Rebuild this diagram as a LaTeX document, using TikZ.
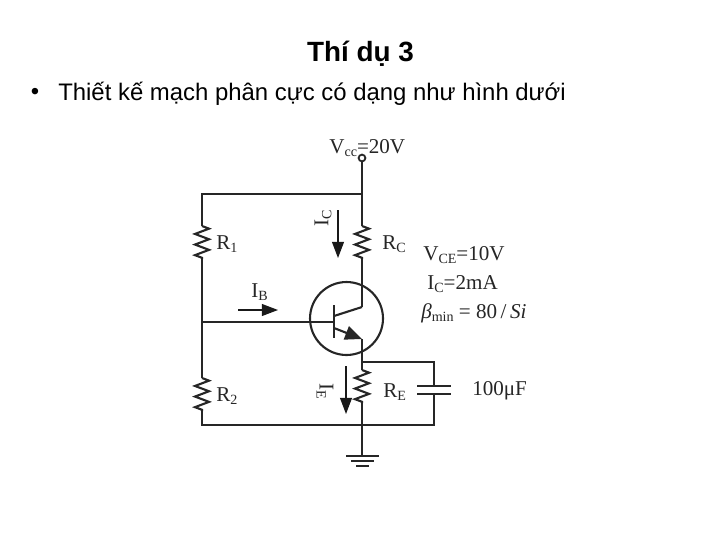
\documentclass[tikz,border=0pt]{standalone}
\usepackage{fontspec}
\setmainfont{Liberation Serif}
\newfontfamily\slidefont{Liberation Sans}
\usetikzlibrary{positioning,calc,decorations.pathmorphing,arrows.meta}
\newcommand{\low}[1]{\raisebox{-0.32ex}{\fontsize{10pt}{10pt}\selectfont #1}}
\tikzset{
    wire/.style={line width=1.5pt, black!85},
    res/.style={wire, decorate, decoration={zigzag, segment length=10.6pt*0.7113, amplitude=7pt*0.7113}},
    curr/.style={line width=0.9pt, black!90, -{Triangle[length=11.5pt, width=8.5pt]}},
    lab/.style={inner sep=0pt, text=black!85, font=\fontsize{15pt}{17pt}\selectfont},
}
\begin{document}
\begin{tikzpicture}[x=0.025cm, y=-0.025cm]
    \useasboundingbox (0,0) rectangle (720,540);
    \node[inner sep=0pt, font=\slidefont\bfseries\fontsize{19.8pt}{22pt}\selectfont] (title) at (360.5,54) {Thí dụ 3};
    \node[inner sep=0pt, anchor=west, font=\slidefont\fontsize{17pt}{20pt}\selectfont] (line) at (58,93.5) {Thiết kế mạch phân cực có dạng như hình dưới};
    \node[inner sep=0pt, font=\slidefont\fontsize{17pt}{20pt}\selectfont] (dot) at (35,93.5) {•};

    % Supply and top rail
    \node[draw, circle, line width=1.3pt, black!85, minimum size=4.8pt, inner sep=0pt] (vcc) at (362,158) {};
    \coordinate (tl) at (202,194);
    \coordinate (tr) at (362,194);
    \coordinate (r1a) at (202,226);
    \coordinate (r1b) at (202,259);
    \coordinate (bl) at (202,322);
    \coordinate (r2a) at (202,378);
    \coordinate (r2b) at (202,411);
    \coordinate (gl) at (202,425);
    \coordinate (gm) at (362,425);
    \coordinate (rca) at (362,226);
    \coordinate (rcb) at (362,259);
    \coordinate (col) at (362,307);
    \coordinate (emi) at (362,339);
    \coordinate (rea) at (362,370);
    \coordinate (reb) at (362,403);
    \coordinate (capt) at (434,362);
    \coordinate (capb) at (434,425);
    \coordinate (etop) at (362,362);
    \coordinate (base) at (334,322);
    \coordinate (gnd) at (362,456);

    \draw[wire] (vcc) -- (tr) -- (rca);
    \draw[wire] (tr) -- (tl) -- (r1a);
    \draw[res] (r1a) -- (r1b);
    \draw[wire] (r1b) -- (bl) -- (r2a);
    \draw[res] (r2a) -- (r2b);
    \draw[wire] (r2b) -- (gl) -- (gm);
    \draw[res] (rca) -- (rcb);
    \draw[wire] (rcb) -- (col);
    \draw[wire] (bl) -- (base);

    % Transistor
    \node[draw, circle, line width=1.5pt, black!85, minimum size=51.9pt, inner sep=0pt] (bjt) at (346.5,318.5) {};
    \draw[wire] (334,305) -- (334,338);
    \draw[wire] (334,316) -- (col);
    \draw[wire, -{Triangle[length=12pt, width=10pt]}] (334,328) -- (emi);

    % Emitter leg and capacitor
    \draw[wire] (emi) -- (rea);
    \draw[res] (rea) -- (reb);
    \draw[wire] (reb) -- (gnd);
    \draw[wire] (etop) -- (capt) -- (434,386);
    \draw[wire] (434,394) -- (capb) -- (gm);
    \draw[wire] (417,386) -- (451,386);
    \draw[wire] (417,394) -- (451,394);

    % Ground
    \draw[wire] (346,456) -- (379,456);
    \draw[wire] (351,461) -- (374,461);
    \draw[wire] (356,466) -- (369,466);

    % Currents
    \coordinate (ica) at (338,210);
    \coordinate (icb) at (338,258);
    \coordinate (iea) at (346,366);
    \coordinate (ieb) at (346,414);
    \coordinate (iba) at (238,310);
    \coordinate (ibb) at (278,310);
    \draw[curr] (ica) -- (icb);
    \draw[curr] (iea) -- (ieb);
    \draw[curr] (iba) -- (ibb);

    % Labels
    \node[lab, anchor=west] (lvcc) at (329,148) {V\low{cc}=20V};
    \node[lab, anchor=west] (lr1) at (216,244) {R\low{1}};
    \node[lab, anchor=west] (lr2) at (216,396) {R\low{2}};
    \node[lab, anchor=west] (lrc) at (382,244) {R\low{C}};
    \node[lab, anchor=west] (lre) at (383,392) {R\low{E}};
    \node[lab, anchor=west] (lib) at (251,292) {I\low{B}};
    \node[lab, rotate=90] (lic) at (323,218) {I\low{C}};
    \node[lab, rotate=-90] (lie) at (325,391) {I\low{E}};
    \node[lab, anchor=west] (lvce) at (423,255) {V\low{CE}=10V};
    \node[lab, anchor=west] (lic2) at (427,284) {I\low{C}=2mA};
    \node[lab, anchor=west] (lbeta) at (421,313) {\textit{β}\low{min} = 80\,/\,\textit{Si}};
    \node[lab, anchor=west] (lcap) at (472,391) {100μF};
\end{tikzpicture}
\end{document}
